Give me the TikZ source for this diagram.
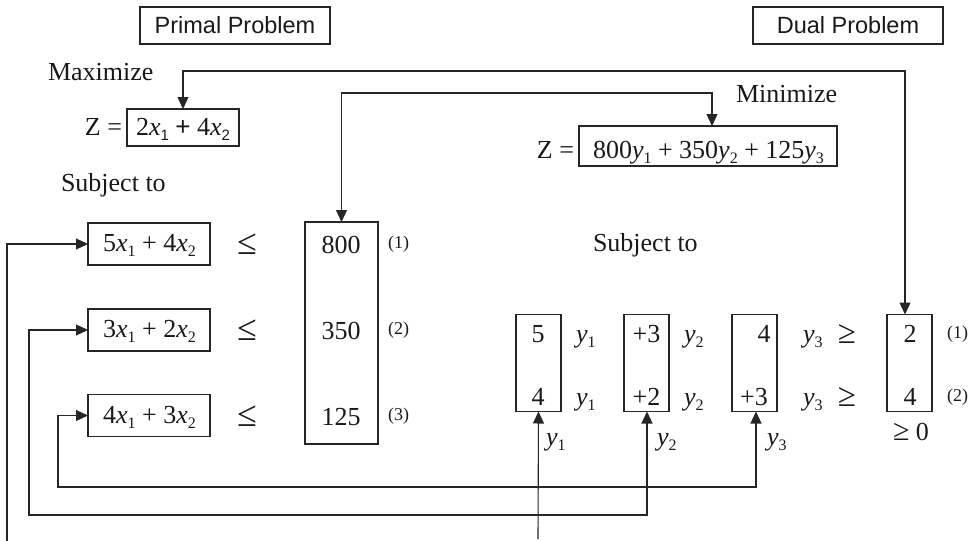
\documentclass[tikz,border=0pt]{standalone}
\usepackage{fontspec}
\setmainfont{Liberation Serif}
\newfontfamily\hsans{Liberation Sans}
\usetikzlibrary{arrows.meta}
\newcommand{\mysb}[1]{\raisebox{-5pt}{\fontsize{16}{16}\selectfont #1}}
\newcommand{\mysbs}[1]{\raisebox{-5pt}{\hsans\fontsize{15}{15}\selectfont #1}}
\newcommand{\myx}{\textit{x}}
\newcommand{\myy}{\textit{y}}
\tikzset{
  every node/.style={font=\fontsize{26}{30}\selectfont, inner sep=0pt, outer sep=0pt, text=black!90},
  boxwh/.style 2 args={draw=black!85, line width=1.1pt, minimum width=#1, minimum height=#2},
  hdr/.style={boxwh={190}{37}, font=\hsans\fontsize{23.5}{28}\selectfont},
  txt/.style={anchor=base},
  rel/.style={anchor=base, font=\fontsize{36}{40}\selectfont},
  lbl/.style={anchor=base, font=\fontsize{18}{20}\selectfont},
  conn/.style={draw=black!85, line width=1.1pt},
  arr/.style={conn, -{Triangle[length=12pt,width=11pt]}},
  biarr/.style={conn, {Triangle[length=12pt,width=11pt]}-{Triangle[length=12pt,width=11pt]}}
}
\begin{document}
\begin{tikzpicture}[x=1pt,y=-1pt]
\useasboundingbox (0,0) rectangle (970,541);
% headers
\node[hdr] (ph) at (235,25.5) {Primal Problem};
\node[hdr] (dh) at (848,25.5) {Dual Problem};
% primal objective
\node[txt, anchor=base west] (maxt) at (48,80) {Maximize};
\node[txt, anchor=base east] (zpeq) at (122,135) {Z =};
\node[boxwh={112}{37}] (zp) at (183,127.5) {};
\node[txt] (zpt) at (183,135) {2\myx\mysbs{1} {\hsans+} 4\myx\mysbs{2}};
\node[txt, anchor=base west] (subp) at (61,191) {Subject to};
% primal constraints
\node[boxwh={122}{42}] (pb1) at (149,244) {};
\node[boxwh={122}{42}] (pb2) at (149,330) {};
\node[boxwh={122}{42}] (pb3) at (149,415.5) {};
\node[txt] (pt1) at (149.5,251) {5\myx\mysb{1} + 4\myx\mysb{2}};
\node[txt] (pt2) at (149.5,337) {3\myx\mysb{1} + 2\myx\mysb{2}};
\node[txt] (pt3) at (149.5,423) {4\myx\mysb{1} + 3\myx\mysb{2}};
\node[rel] (le1) at (247,254) {≤};
\node[rel] (le2) at (247,340) {≤};
\node[rel] (le3) at (247,426) {≤};
\node[boxwh={73}{222}] (rhs) at (341.5,333) {};
\node[txt] (r1) at (341,253) {800};
\node[txt] (r2) at (341,339) {350};
\node[txt] (r3) at (341,425) {125};
\node[lbl] (n1) at (398.5,248) {(1)};
\node[lbl] (n2) at (398.5,334) {(2)};
\node[lbl] (n3) at (398.5,420) {(3)};
% dual objective
\node[txt, anchor=base west] (mint) at (736,102) {Minimize};
\node[txt, anchor=base east] (zdeq) at (574,158) {Z =};
\node[boxwh={258}{40}] (zd) at (708,146) {};
\node[txt] (zdt) at (708.5,158) {800\myy\mysb{1} + 350\myy\mysb{2} + 125\myy\mysb{3}};
\node[txt, anchor=base west] (subd) at (593,251) {Subject to};
% dual constraints
\node[boxwh={45}{97}] (da) at (538.5,363) {};
\node[boxwh={45}{97}] (db) at (646.5,363) {};
\node[boxwh={45}{97}] (dc) at (754.5,363) {};
\node[boxwh={45}{97}] (dr) at (909.5,363) {};
\node[txt] (a1) at (538,342) {5};
\node[txt] (a2) at (538,405) {4};
\node[txt] (b1) at (646.5,342) {+3};
\node[txt] (b2) at (646.5,405) {+2};
\node[txt] (c1) at (764,342) {4};
\node[txt] (c2) at (754,405) {+3};
\node[txt] (d1) at (910,342) {2};
\node[txt] (d2) at (910,405) {4};
\node[txt, anchor=base west] (ya1) at (576,342) {\myy\mysb{1}};
\node[txt, anchor=base west] (ya2) at (576,405) {\myy\mysb{1}};
\node[txt, anchor=base west] (yb1) at (684,342) {\myy\mysb{2}};
\node[txt, anchor=base west] (yb2) at (684,405) {\myy\mysb{2}};
\node[txt, anchor=base west] (yc1) at (803,342) {\myy\mysb{3}};
\node[txt, anchor=base west] (yc2) at (803,405) {\myy\mysb{3}};
\node[rel, font=\fontsize{33}{36}\selectfont] (ge1) at (847,343) {≥};
\node[rel, font=\fontsize{33}{36}\selectfont] (ge2) at (847,406) {≥};
\node[lbl, anchor=base west] (m1) at (947,338) {(1)};
\node[lbl, anchor=base west] (m2) at (947,401) {(2)};
\node[txt] (ge0) at (911,440) {{\fontsize{30}{32}\selectfont ≥} 0};
\node[txt, anchor=base west] (yl1) at (546,445) {\myy\mysb{1}};
\node[txt, anchor=base west] (yl2) at (657,445) {\myy\mysb{2}};
\node[txt, anchor=base west] (yl3) at (767,445) {\myy\mysb{3}};
% connectors
\coordinate (k1) at (183,71);
\coordinate (k2) at (905,71);
\draw[biarr] (zp.north) -- (k1) -- (k2) -- (k2 |- dr.north);
\coordinate (k3) at (341.5,93);
\coordinate (k4) at (712,93);
\draw[biarr] (rhs.north) -- (k3) -- (k4) -- (k4 |- zd.north);
\coordinate (k5) at (7,541);
\draw[arr] (k5) |- (pb1.west);
\coordinate (k6) at (29,515);
\coordinate (k7) at (647,515);
\draw[biarr] (pb2.west) -| (k6) -- (k7) -- (k7 |- db.south);
\coordinate (k8) at (58,487);
\coordinate (k9) at (756,487);
\draw[biarr] (pb3.west) -| (k8) -- (k9) -- (k9 |- dc.south);
\coordinate (k10) at (538,539);
\draw[arr] (k10) -- (da.south);
\end{tikzpicture}
\end{document}
